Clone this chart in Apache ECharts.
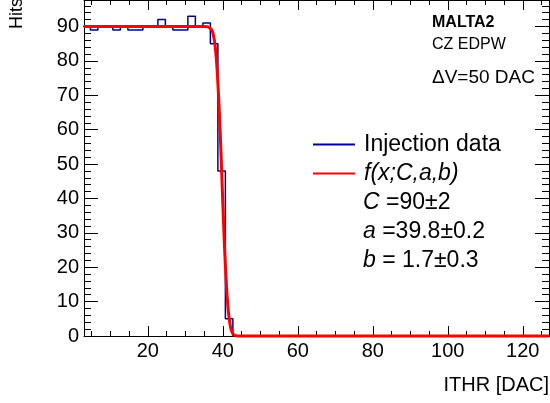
<!DOCTYPE html>
<html>
<head>
<meta charset="utf-8">
<script src="https://cdn.jsdelivr.net/npm/echarts@6/dist/echarts.min.js"></script>
<style>
html,body{margin:0;padding:0;background:#fff;}
#c{width:550px;height:403px;}
</style>
</head>
<body>
<div id="c"></div>
<script>
// ---- data ----
const histLowEdge = 2.7;
const histBinWidth = 2;
const histCounts = [90,89,90,90,89,90,89,89,90,90,92,90,89,89,93,90,91,85,48,5,
  0,0,0,0,0,0,0,0,0,0,0,0,0,0,0,0,0,0,0,0,0,0,0,0,0,0,0,0,0,0,0,0,0,0,0,0,0,0,0,0,0,0,0];
const fitX = [3, 35, 36, 37, 37.5, 38, 38.5, 39, 39.5, 40, 40.5, 41, 41.5, 42, 42.5, 43, 44, 127];
const fitY = [90, 90, 89.9, 89.1, 87.6, 84.0, 77.4, 67.3, 54.2, 39.1, 25.2, 14.3, 7.1, 3.0, 1.1, 0.3, 0, 0];
const xMajor = [20, 40, 60, 80, 100, 120];
const xMinor = [5, 10, 15, 25, 30, 35, 45, 50, 55, 65, 70, 75, 85, 90, 95, 105, 110, 115, 125];
const yMajor = [0, 10, 20, 30, 40, 50, 60, 70, 80, 90];
const yMinor = [2,4,6,8,12,14,16,18,22,24,26,28,32,34,36,38,42,44,46,48,52,54,56,58,62,64,66,68,72,74,76,78,82,84,86,88,92,94,96];
const xRange = [3, 127];
const yRange = [0, 97.7];
const seriesNames = ['Injection data', 'f(x;C,a,b)'];
const paramLines = ['{i|C} =90\u00b12', '{i|a} =39.8\u00b10.2', '{i|b} = 1.7\u00b10.3'];
const infoLines = ['MALTA2', 'CZ EDPW', '\u0394V=50 DAC'];

// ---- build ----
const FONT = '"Liberation Sans", Arial, Helvetica, sans-serif';
const histData = histCounts.map((v, i) => [histLowEdge + i * histBinWidth, v]);
histData.push([histLowEdge + histCounts.length * histBinWidth, histCounts[histCounts.length - 1]]);
const fitData = fitX.map((x, i) => [x, fitY[i]]);

function xAxisDef(pos, vals, len, labels, line) {
  return {
    type: 'value', position: pos, min: xRange[0], max: xRange[1],
    axisLine: {show: line, onZero: false, lineStyle: {color: '#000', width: 1}},
    axisTick: {show: true, inside: true, length: len, customValues: vals, lineStyle: {color: '#000', width: 1}},
    axisLabel: {show: labels, customValues: vals, color: '#000', fontSize: 20, fontFamily: FONT, margin: 5},
    splitLine: {show: false}
  };
}
function yAxisDef(pos, vals, len, labels, line) {
  return {
    type: 'value', position: pos, min: yRange[0], max: yRange[1],
    axisLine: {show: line, onZero: false, lineStyle: {color: '#000', width: 1}},
    axisTick: {show: true, inside: true, length: len, customValues: vals, lineStyle: {color: '#000', width: 1}},
    axisLabel: {show: labels, customValues: vals, color: '#000', fontSize: 20, fontFamily: FONT, margin: 5},
    splitLine: {show: false}
  };
}

const chart = echarts.init(document.getElementById('c'), null, {renderer: 'canvas'});
const graphics = [];
graphics.push({type: 'text', x: 549, y: 385, style: {text: 'ITHR [DAC]', font: '20px ' + FONT, fill: '#000', align: 'right', verticalAlign: 'middle'}});
graphics.push({type: 'text', x: 17, y: -2, rotation: Math.PI / 2, style: {text: 'Hits', font: '18px ' + FONT, fill: '#000', align: 'right', verticalAlign: 'middle'}});
const infoY = [23, 45, 78];
const infoFont = ['bold 16px ', '16px ', '19px '];
infoLines.forEach((t, i) => {
  graphics.push({type: 'text', x: 432, y: infoY[i], style: {text: t, font: infoFont[i] + FONT, fill: '#000', align: 'left', verticalAlign: 'middle'}});
});
const paramY = [203, 232, 261];
paramLines.forEach((t, i) => {
  graphics.push({type: 'text', x: 363, y: paramY[i], style: {text: t, font: '23px ' + FONT, fill: '#000', align: 'left', verticalAlign: 'middle',
    rich: {i: {fontStyle: 'italic', fontSize: 23, fontFamily: FONT}}}});
});

chart.setOption({
  animation: false,
  backgroundColor: '#fff',
  grid: {left: 84, right: 1, top: 0, bottom: 67, containLabel: false},
  xAxis: [
    xAxisDef('bottom', xMajor, 10, true, true),
    xAxisDef('bottom', xMinor, 5, false, false),
    xAxisDef('top', xMajor, 10, false, true),
    xAxisDef('top', xMinor, 5, false, false)
  ],
  yAxis: [
    yAxisDef('left', yMajor, 14, true, true),
    yAxisDef('left', yMinor, 7, false, false),
    yAxisDef('right', yMajor, 14, false, true),
    yAxisDef('right', yMinor, 7, false, false)
  ],
  legend: {
    orient: 'vertical', left: 312, top: 133, padding: 0, itemWidth: 42, itemHeight: 22, itemGap: 6,
    selectedMode: false,
    itemStyle: {color: 'rgba(0,0,0,0)', borderWidth: 0, opacity: 0},
    textStyle: {fontSize: 23, fontFamily: FONT, color: '#000', padding: [0, 0, 0, 4]},
    data: [
      {name: seriesNames[0]},
      {name: seriesNames[1], textStyle: {fontStyle: 'italic'}}
    ]
  },
  series: [
    {name: seriesNames[0], type: 'line', step: 'end', data: histData, symbol: 'none',
      xAxisIndex: 0, yAxisIndex: 0, clip: true,
      lineStyle: {color: '#000099', width: 1.5}, itemStyle: {color: '#000099'}, z: 2},
    {name: seriesNames[1], type: 'line', data: fitData, symbol: 'none', smooth: 0.2,
      xAxisIndex: 0, yAxisIndex: 0, clip: false,
      lineStyle: {color: '#ff0000', width: 3}, itemStyle: {color: '#ff0000'}, z: 3}
  ],
  graphic: graphics
});
</script>
</body>
</html>
